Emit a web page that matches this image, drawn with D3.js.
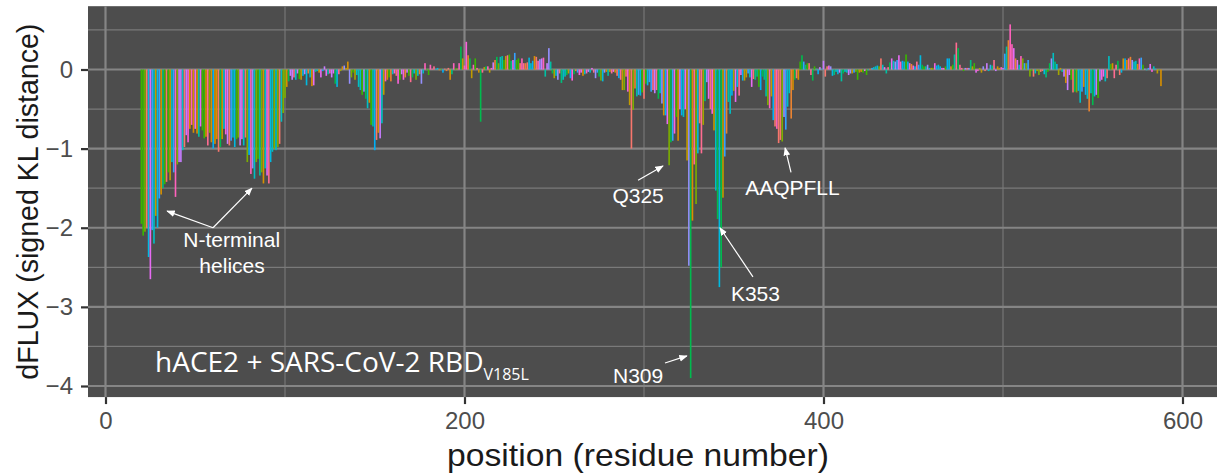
<!DOCTYPE html>
<html>
<head>
<meta charset="utf-8">
<script src="https://cdn.jsdelivr.net/npm/d3@7"></script>
<style>
  body { margin: 0; background: #ffffff; }
  text { font-family: "Liberation Sans", Arial, sans-serif; }
</style>
</head>
<body>
<div id="chart"></div>
<script>
const firstPosition = 19;

// dFLUX per position (positions 19..588)
const dflux = [
  0, -1.95, -2.1, -2.05, -2.0, -2.37, -2.65, -2.03, -2.2, -1.85,
  -2.0, -1.63, -1.58, -1.5, -1.45, -1.42, -1.3, -1.4, -1.17, -1.3,
  -1.61, -1.2, -1.17, -1.17, -1.02, -0.98, -0.83, -0.92, -0.75, -0.7,
  -0.8, -0.75, -0.81, -0.85, -0.72, -0.77, -0.87, -0.85, -0.96, -0.8,
  -0.92, -1.0, -0.94, -0.88, -1.04, -0.98, -0.88, -0.75, -0.82, -0.94,
  -0.96, -0.9, -0.86, -0.98, -0.88, -0.86, -0.96, -0.88, -0.96, -0.86,
  -1.17, -1.08, -1.32, -1.25, -1.38, -1.17, -1.13, -1.34, -1.3, -1.44,
  -1.25, -1.34, -1.44, -1.17, -1.04, -1.0, -1.02, -0.98, -0.94, -0.66,
  -0.55, -0.36, -0.22, -0.15, -0.08, -0.13, -0.1, -0.13, -0.05, -0.12,
  -0.13, -0.08, -0.06, -0.2, -0.05, -0.1, -0.21, -0.2, -0.03, -0.02,
  -0.04, -0.1, -0.02, 0.04, -0.08, -0.06, -0.05, -0.1, -0.05, -0.18,
  -0.22, -0.06, -0.02, 0.04, 0.05, 0.02, 0.1, -0.18, -0.1, -0.04,
  -0.13, -0.07, -0.22, -0.26, -0.32, -0.28, -0.37, -0.49, -0.42, -0.7,
  -0.72, -1.02, -0.89, -0.8, -0.87, -0.68, -0.32, -0.15, -0.13, -0.1,
  -0.15, -0.06, -0.05, -0.08, -0.18, -0.13, -0.06, -0.13, -0.1, -0.04,
  -0.08, -0.16, -0.1, -0.05, -0.13, -0.08, -0.06, -0.18, -0.05, 0.08,
  0.01, -0.07, 0.06, 0.01, 0.04, 0.01, 0.02, -0.01, 0.01, -0.04,
  0.01, -0.02, 0.02, -0.13, -0.06, 0.08, 0.02, 0.01, 0.08, 0.29,
  0.14, 0.05, 0.35, 0.18, 0.14, -0.11, 0.06, 0.14, 0.02, -0.04,
  -0.66, -0.04, 0.03, 0.04, 0.04, -0.04, 0.02, 0.09, 0.12, 0.16,
  0.08, 0.16, 0.17, 0.12, 0.17, 0.18, 0.19, 0.11, 0.12, 0.21,
  0.12, 0.14, 0.08, 0.14, 0.08, 0.08, 0.09, 0.15, 0.08, 0.11,
  0.17, 0.16, 0.11, 0.13, 0.14, 0.15, -0.09, 0.08, 0.27, 0.1,
  -0.05, -0.11, -0.08, -0.13, -0.05, -0.17, -0.13, -0.09, -0.07, -0.05,
  -0.11, -0.14, -0.06, -0.02, -0.04, -0.07, -0.04, -0.08, -0.06, -0.05,
  -0.03, -0.04, 0.02, -0.04, -0.11, -0.04, -0.09, -0.14, -0.15, -0.04,
  -0.03, -0.08, -0.03, -0.05, -0.03, -0.04, -0.08, -0.11, -0.13, -0.26,
  -0.26, -0.09, -0.28, -0.45, -1.0, -0.51, -0.24, -0.34, -0.32, -0.33,
  -0.29, -0.37, -0.18, -0.2, -0.16, -0.28, -0.26, -0.3, -0.26, -0.37,
  -0.3, -0.43, -0.58, -0.58, -0.69, -1.21, -0.92, -0.9, -0.81, -0.6,
  -0.9, -0.5, -0.58, -0.6, -0.5, -1.15, -2.48, -3.9, -1.91, -1.2,
  -1.7, -1.06, -0.68, -1.06, -0.7, -0.4, -0.16, -0.37, -0.5, -0.56,
  -0.77, -1.53, -1.89, -2.75, -2.5, -1.62, -1.1, -0.81, -0.41, -0.56,
  -0.33, -0.27, -0.41, -0.22, -0.33, -0.07, -0.14, -0.14, -0.1, -0.05,
  -0.1, -0.22, -0.12, -0.13, -0.09, -0.22, -0.26, -0.09, -0.13, -0.34,
  -0.45, -0.49, -0.34, -0.64, -0.72, -0.75, -0.93, -0.89, -0.91, -0.6,
  -0.76, -0.47, -0.3, -0.62, -0.26, -0.13, -0.11, -0.13, 0.1, 0.18,
  0.1, 0.06, 0.08, 0.08, -0.07, -0.14, 0.04, 0.01, -0.06, 0.03,
  0.01, 0.11, -0.09, 0.04, 0.05, 0.04, -0.08, -0.07, -0.03, -0.06,
  -0.04, -0.15, -0.05, -0.03, -0.04, -0.07, -0.05, -0.05, -0.04, -0.03,
  -0.13, -0.04, -0.03, -0.04, -0.02, -0.07, -0.01, 0.01, 0.02, 0.03,
  0.04, 0.05, 0.04, 0.14, 0.06, 0.03, -0.05, 0.03, 0.09, 0.14,
  0.11, 0.1, 0.12, 0.18, 0.1, 0.11, 0.1, 0.19, 0.1, 0.08,
  0.07, 0.05, 0.04, 0.1, 0.06, 0.18, 0.06, 0.04, 0.04, 0.06,
  0.02, 0.02, 0.02, 0.08, 0.05, 0.06, 0.04, 0.02, 0.02, 0.04,
  0.14, 0.14, 0.04, 0.06, 0.19, 0.34, 0.27, 0.06, 0.02, -0.02,
  0.02, 0.02, 0.02, 0.12, 0.04, 0.08, -0.04, -0.02, 0.02, -0.04,
  0.04, -0.02, 0.08, -0.02, 0.06, 0.05, 0.12, -0.02, 0.04, 0.02,
  0.03, 0.02, 0.2, 0.29, 0.37, 0.57, 0.32, 0.27, 0.14, 0.12,
  0.06, 0.17, 0.14, 0.08, 0.08, 0.12, -0.09, -0.02, -0.09, -0.05,
  -0.02, -0.07, -0.03, -0.02, -0.06, -0.1, -0.03, 0.08, 0.14, 0.21,
  0.1, 0.07, -0.07, 0.02, -0.03, -0.09, -0.17, -0.26, -0.07, -0.13,
  -0.29, -0.28, -0.29, -0.27, -0.42, -0.28, -0.22, -0.32, -0.37, -0.53,
  -0.3, -0.45, -0.34, -0.32, -0.36, -0.15, -0.13, -0.09, -0.15, -0.11,
  0.17, 0.07, 0.08, -0.11, 0.06, 0.11, -0.07, -0.04, 0.14, 0.14,
  0.12, 0.14, 0.16, 0.12, 0.1, 0.11, 0.07, 0.14, 0.15, 0.06,
  0.01, -0.01, 0.02, 0.07, -0.03, 0.04, 0.01, -0.05, -0.01, -0.21
];

// residue (one-letter) at each plotted position
const residueSeq = [
  "IEEQAKTFLDKFNHEAEDLFYQSSLASWNYNTNITEENVQNMNNAGDKWSAFLKEQSTLA",
  "QMYPLQEIQNLTVKLQLQALQQNGSSVLSEDKSKRLNTILNTMSTIYSTGKVCNPDNPQE",
  "CLLLEPGLNEIMANSLDYNERLWAWESWRSEVGKQLRPLYEEYVVLKNEMARANHYEDYG",
  "DYWRGDYEVNGVDGYDYSRGQLIEDVEHTFEE",
  "AYVRAKLMNAYPSYISPIGCLPAHLLGDMWGRFWTNLYSLTVPFGQKPNIDVTDAMVDQ",
  "AWDAQRIFKEAEKFFVSVGLPNMTQGFWENSMLTDPGNVQKAVCHPTAWDLGKGDFRILM",
  "CTKVTMDDFLTAHHEMGHIQYDMAYAAQPFLLRNGANEGFHEAVGEIMSLSAATPKHLKS",
  "IGLLSPDFQEDNETEINFLLKQALTIVGTLPFTYMLEKWRWMVFKGEIPKDQWMKKWWEM",
  "KREIVGVVEPVPHDETYCDPASLFHVSNDYSFIRYYTRTLYQFQFQEALCQAAKHEGPLH",
  "KCDISNSTEAGQKLFNMLRLGKSEPWTLALENVVGAKNMNVRPLLNYFEPLFTWLKDQN"
].join("");

const aaOneLetter = "ARNDCQEGHILKMFPSTWYV".split("");
const aaThreeLetter = ["ALA", "ARG", "ASN", "ASP", "CYS", "GLN", "GLU", "GLY", "HIS", "ILE",
                       "LEU", "LYS", "MET", "PHE", "PRO", "SER", "THR", "TRP", "TYR", "VAL"];
const aaColours = ["#F8766D", "#EA8331", "#D89000", "#C09B00", "#A3A500", "#7CAE00", "#39B600",
                   "#00BB4E", "#00BF7D", "#00C1A3", "#00BFC4", "#00BAE0", "#00B0F6", "#35A2FF",
                   "#9590FF", "#C77CFF", "#E76BF3", "#FA62DB", "#FF62BC", "#FF6C91"];

const yMajor = [0, -1, -2, -3, -4];
const yMinor = [0.5, -0.5, -1.5, -2.5, -3.5];
const xMajor = [0, 200, 400, 600];
const xMinor = [100, 300, 500];

// annotations in data units: [label, position, value]
const notes = [
  ["N-terminal", 70.3, -2.24],
  ["helices", 70.5, -2.57],
  ["Q325", 296.7, -1.69],
  ["AAQPFLL", 382.7, -1.59],
  ["K353", 362.1, -2.93],
  ["N309", 296.7, -3.96]
];
// arrows: [fromPos, fromVal, toPos, toVal]
const arrows = [
  [59.9, -2.0, 34.3, -1.79],
  [59.9, -2.0, 81.6, -1.5],
  [296.7, -1.4, 310.6, -1.22],
  [381.9, -1.3, 378.6, -0.99],
  [360.7, -2.62, 342.3, -2.0],
  [311.7, -3.71, 323.9, -3.62]
];

const width = 1217, height = 476;
const svg = d3.select("#chart").append("svg")
    .attr("width", width)
    .attr("height", height);

const x = d3.scaleLinear().domain([0, 600]).range([105.5, 1182.5]);
const y = d3.scaleLinear().domain([0, -4]).range([69.5, 386]);

const aaName = d3.scaleOrdinal().domain(aaOneLetter).range(aaThreeLetter);
const fill = d3.scaleOrdinal().domain(aaThreeLetter).range(aaColours);

const data = dflux.map((v, i) => ({
    pos: firstPosition + i,
    value: v,
    aa: aaName(residueSeq[i])
}));

const panelLeft = x(-9.75), panelTop = y(0.8), panelBottom = y(-4.14);

svg.append("rect")
    .attr("x", panelLeft)
    .attr("y", panelTop)
    .attr("width", width - panelLeft)
    .attr("height", panelBottom - panelTop)
    .attr("fill", "#4d4d4d");

const grid = svg.append("g");
grid.selectAll(".hminor").data(yMinor).enter().append("line")
    .attr("x1", panelLeft).attr("x2", width)
    .attr("y1", d => y(d)).attr("y2", d => y(d))
    .attr("stroke", "#7a7a7a").attr("stroke-width", 1.3);
grid.selectAll(".vminor").data(xMinor).enter().append("line")
    .attr("y1", panelTop).attr("y2", panelBottom)
    .attr("x1", d => x(d)).attr("x2", d => x(d))
    .attr("stroke", "#7a7a7a").attr("stroke-width", 1.1);
grid.selectAll(".hmajor").data(yMajor).enter().append("line")
    .attr("x1", panelLeft).attr("x2", width)
    .attr("y1", d => y(d)).attr("y2", d => y(d))
    .attr("stroke", "#858585").attr("stroke-width", 2.2);
grid.selectAll(".vmajor").data(xMajor).enter().append("line")
    .attr("y1", panelTop).attr("y2", panelBottom)
    .attr("x1", d => x(d)).attr("x2", d => x(d))
    .attr("stroke", "#858585").attr("stroke-width", 2.2);

const barW = x(0.9) - x(0);
svg.append("g").selectAll("rect")
    .data(data)
    .enter()
    .append("rect")
    .attr("x", d => x(d.pos) - barW / 2)
    .attr("y", d => Math.min(y(d.value), y(0)))
    .attr("width", barW)
    .attr("height", d => Math.abs(y(d.value) - y(0)))
    .attr("fill", d => fill(d.aa));

// axes
const yAxisG = svg.append("g")
    .attr("transform", "translate(" + panelLeft + ",0)")
    .call(d3.axisLeft(y).tickValues(yMajor).tickFormat(d3.format("d")).tickSize(7).tickPadding(8));
const xAxisG = svg.append("g")
    .attr("transform", "translate(0," + panelBottom + ")")
    .call(d3.axisBottom(x).tickValues(xMajor).tickFormat(d3.format("d")).tickSize(7).tickPadding(8));

[yAxisG, xAxisG].forEach(g => {
    g.select(".domain").remove();
    g.selectAll(".tick line").attr("stroke", "#333333").attr("stroke-width", 2.2);
    g.selectAll(".tick text")
        .attr("fill", "#4d4d4d")
        .style("font-size", "24px")
        .style("font-family", "'Liberation Sans', Arial, sans-serif");
});

svg.append("text")
    .attr("transform", "translate(38," + ((panelTop + panelBottom) / 2) + ") rotate(-90)")
    .attr("text-anchor", "middle")
    .attr("fill", "#1a1a1a")
    .style("font-size", "30px")
    .attr("textLength", 356)
    .attr("lengthAdjust", "spacingAndGlyphs")
    .text("dFLUX (signed KL distance)");

svg.append("text")
    .attr("x", 638)
    .attr("y", 466)
    .attr("text-anchor", "middle")
    .attr("fill", "#1a1a1a")
    .style("font-size", "32px")
    .attr("textLength", 382)
    .attr("lengthAdjust", "spacingAndGlyphs")
    .text("position (residue number)");

// in-panel title with subscript
const title = svg.append("text")
    .attr("x", x(27.6))
    .attr("y", y(-3.82))
    .attr("fill", "#ffffff")
    .style("font-family", "'Open Sans', 'Noto Sans', sans-serif");
title.append("tspan")
    .style("font-size", "28px")
    .text("hACE2 + SARS-CoV-2 RBD");
title.append("tspan")
    .attr("dy", 8)
    .style("font-size", "16px")
    .text("V185L");

svg.append("defs").append("marker")
    .attr("id", "head")
    .attr("viewBox", "0 0 10 10")
    .attr("refX", 9).attr("refY", 5)
    .attr("markerWidth", 7).attr("markerHeight", 7)
    .attr("orient", "auto")
    .append("path")
    .attr("d", "M0,1 L10,5 L0,9 z")
    .attr("fill", "#ffffff");

svg.append("g").selectAll("line")
    .data(arrows)
    .enter()
    .append("line")
    .attr("x1", d => x(d[0])).attr("y1", d => y(d[1]))
    .attr("x2", d => x(d[2])).attr("y2", d => y(d[3]))
    .attr("stroke", "#ffffff")
    .attr("stroke-width", 1.2)
    .attr("marker-end", "url(#head)");

svg.append("g").selectAll("text")
    .data(notes)
    .enter()
    .append("text")
    .attr("x", d => x(d[1]))
    .attr("y", d => y(d[2]))
    .attr("text-anchor", "middle")
    .attr("fill", "#ffffff")
    .style("font-size", "21px")
    .text(d => d[0]);
</script>
</body>
</html>
